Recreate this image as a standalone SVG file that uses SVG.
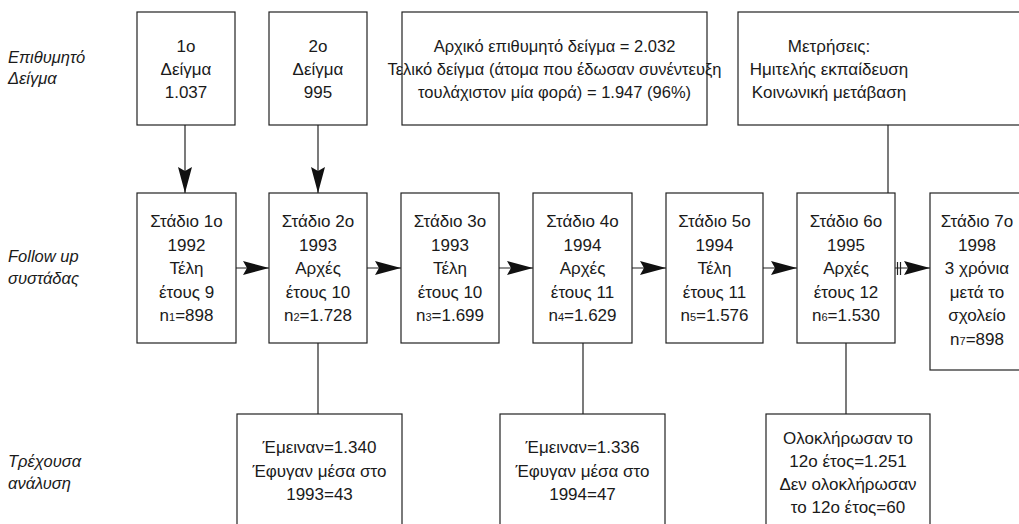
<svg xmlns="http://www.w3.org/2000/svg" width="1019" height="524" viewBox="0 0 1019 524">
<defs>
<marker id="ah" markerUnits="userSpaceOnUse" markerWidth="26" markerHeight="15" refX="26" refY="7.5" orient="auto" overflow="visible">
<path d="M0,0.5 L26,7.5 L0,14.5 L4,7.5 z" fill="#111"/>
</marker>
<style>
.box{fill:#fff;stroke:#222;stroke-width:1.2}
.t{font-family:"Liberation Sans",Arial,sans-serif;font-size:17px;fill:#1a1a1a;text-anchor:middle}
.s{font-size:16.5px}
.lab{font-family:"Liberation Sans",Arial,sans-serif;font-size:16.5px;font-style:italic;fill:#1a1a1a}
.c{fill:none;stroke:#222;stroke-width:1.2}
.a{marker-end:url(#ah)}
.sub{font-size:11px}
</style>
</defs>
<rect width="1019" height="524" fill="#fff"/>

<g id="labels">
<text class="lab" x="8" y="63">Επιθυμητό</text>
<text class="lab" x="8" y="84">Δείγμα</text>
<text class="lab" x="8" y="262">Follow up</text>
<text class="lab" x="8" y="284">συστάδας</text>
<text class="lab" x="8" y="467">Τρέχουσα</text>
<text class="lab" x="8" y="489">ανάλυση</text>
</g>

<g id="connectors">
<line class="c a" x1="185" y1="125" x2="185" y2="193"/>
<line class="c a" x1="318" y1="125" x2="318" y2="193"/>
<line class="c" x1="888" y1="125" x2="888" y2="193"/>
<line class="c a" x1="236" y1="268" x2="269" y2="268"/>
<line class="c a" x1="367" y1="268" x2="401" y2="268"/>
<line class="c a" x1="499" y1="268" x2="533" y2="268"/>
<line class="c a" x1="632" y1="268" x2="666" y2="268"/>
<line class="c a" x1="763" y1="268" x2="797" y2="268"/>
<line class="c a" x1="895" y1="268" x2="930" y2="268"/>
<line class="c" x1="897.5" y1="262" x2="897.5" y2="275"/>
<line class="c" x1="900.5" y1="262" x2="900.5" y2="275"/>
<line class="c" x1="318" y1="343" x2="318" y2="414"/>
<line class="c" x1="583" y1="343" x2="583" y2="414"/>
<line class="c" x1="846" y1="343" x2="846" y2="414"/>
</g>

<g id="sample1">
<rect class="box" x="137" y="12" width="98" height="113"/>
<text class="t" x="186" y="52">1ο</text>
<text class="t" x="186" y="75">Δείγμα</text>
<text class="t" x="186" y="98">1.037</text>
</g>
<g id="sample2">
<rect class="box" x="269" y="12" width="98" height="113"/>
<text class="t" x="318" y="52">2ο</text>
<text class="t" x="318" y="75">Δείγμα</text>
<text class="t" x="318" y="98">995</text>
</g>
<g id="summary">
<rect class="box" x="402" y="12" width="305" height="113"/>
<text class="t s" x="554.5" y="52">Αρχικό επιθυμητό δείγμα = 2.032</text>
<text class="t s" x="554.5" y="75">Τελικό δείγμα (άτομα που έδωσαν συνέντευξη</text>
<text class="t s" x="554.5" y="98">τουλάχιστον μία φορά) = 1.947 (96%)</text>
</g>
<g id="measures">
<rect class="box" x="738" y="12" width="300" height="113"/>
<text class="t" x="829" y="52">Μετρήσεις:</text>
<text class="t" x="829" y="75">Ημιτελής εκπαίδευση</text>
<text class="t" x="829" y="98">Κοινωνική μετάβαση</text>
</g>

<g id="stage1">
<rect class="box" x="137" y="193" width="99" height="150"/>
<text class="t" x="186.5" y="227">Στάδιο 1ο</text>
<text class="t" x="186.5" y="250.5">1992</text>
<text class="t" x="186.5" y="274">Τέλη</text>
<text class="t" x="186.5" y="297.5">έτους 9</text>
<text class="t" x="186.5" y="321">n<tspan class="sub">1</tspan>=898</text>
</g>
<g id="stage2">
<rect class="box" x="269" y="193" width="98" height="150"/>
<text class="t" x="318" y="227">Στάδιο 2ο</text>
<text class="t" x="318" y="250.5">1993</text>
<text class="t" x="318" y="274">Αρχές</text>
<text class="t" x="318" y="297.5">έτους 10</text>
<text class="t" x="318" y="321">n<tspan class="sub">2</tspan>=1.728</text>
</g>
<g id="stage3">
<rect class="box" x="401" y="193" width="98" height="150"/>
<text class="t" x="450" y="227">Στάδιο 3ο</text>
<text class="t" x="450" y="250.5">1993</text>
<text class="t" x="450" y="274">Τέλη</text>
<text class="t" x="450" y="297.5">έτους 10</text>
<text class="t" x="450" y="321">n<tspan class="sub">3</tspan>=1.699</text>
</g>
<g id="stage4">
<rect class="box" x="533" y="193" width="99" height="150"/>
<text class="t" x="582.5" y="227">Στάδιο 4ο</text>
<text class="t" x="582.5" y="250.5">1994</text>
<text class="t" x="582.5" y="274">Αρχές</text>
<text class="t" x="582.5" y="297.5">έτους 11</text>
<text class="t" x="582.5" y="321">n<tspan class="sub">4</tspan>=1.629</text>
</g>
<g id="stage5">
<rect class="box" x="666" y="193" width="97" height="150"/>
<text class="t" x="714.5" y="227">Στάδιο 5ο</text>
<text class="t" x="714.5" y="250.5">1994</text>
<text class="t" x="714.5" y="274">Τέλη</text>
<text class="t" x="714.5" y="297.5">έτους 11</text>
<text class="t" x="714.5" y="321">n<tspan class="sub">5</tspan>=1.576</text>
</g>
<g id="stage6">
<rect class="box" x="797" y="193" width="98" height="150"/>
<text class="t" x="846" y="227">Στάδιο 6ο</text>
<text class="t" x="846" y="250.5">1995</text>
<text class="t" x="846" y="274">Αρχές</text>
<text class="t" x="846" y="297.5">έτους 12</text>
<text class="t" x="846" y="321">n<tspan class="sub">6</tspan>=1.530</text>
</g>
<g id="stage7">
<rect class="box" x="930" y="193" width="100" height="177"/>
<text class="t" x="977" y="227">Στάδιο 7ο</text>
<text class="t" x="977" y="250.5">1998</text>
<text class="t" x="977" y="274">3 χρόνια</text>
<text class="t" x="977" y="297.5">μετά το</text>
<text class="t" x="977" y="321">σχολείο</text>
<text class="t" x="977" y="344.5">n<tspan class="sub">7</tspan>=898</text>
</g>

<g id="result1993">
<rect class="box" x="237" y="414" width="165" height="130"/>
<text class="t" x="319.5" y="453">Έμειναν=1.340</text>
<text class="t" x="319.5" y="476.5">Έφυγαν μέσα στο</text>
<text class="t" x="319.5" y="500">1993=43</text>
</g>
<g id="result1994">
<rect class="box" x="500" y="414" width="165" height="130"/>
<text class="t" x="582.5" y="453">Έμειναν=1.336</text>
<text class="t" x="582.5" y="476.5">Έφυγαν μέσα στο</text>
<text class="t" x="582.5" y="500">1994=47</text>
</g>
<g id="result1995">
<rect class="box" x="766" y="414" width="164" height="130"/>
<text class="t" x="848" y="444">Ολοκλήρωσαν το</text>
<text class="t" x="848" y="467">12ο έτος=1.251</text>
<text class="t" x="848" y="490">Δεν ολοκλήρωσαν</text>
<text class="t" x="848" y="513">το 12ο έτος=60</text>
</g>
</svg>
